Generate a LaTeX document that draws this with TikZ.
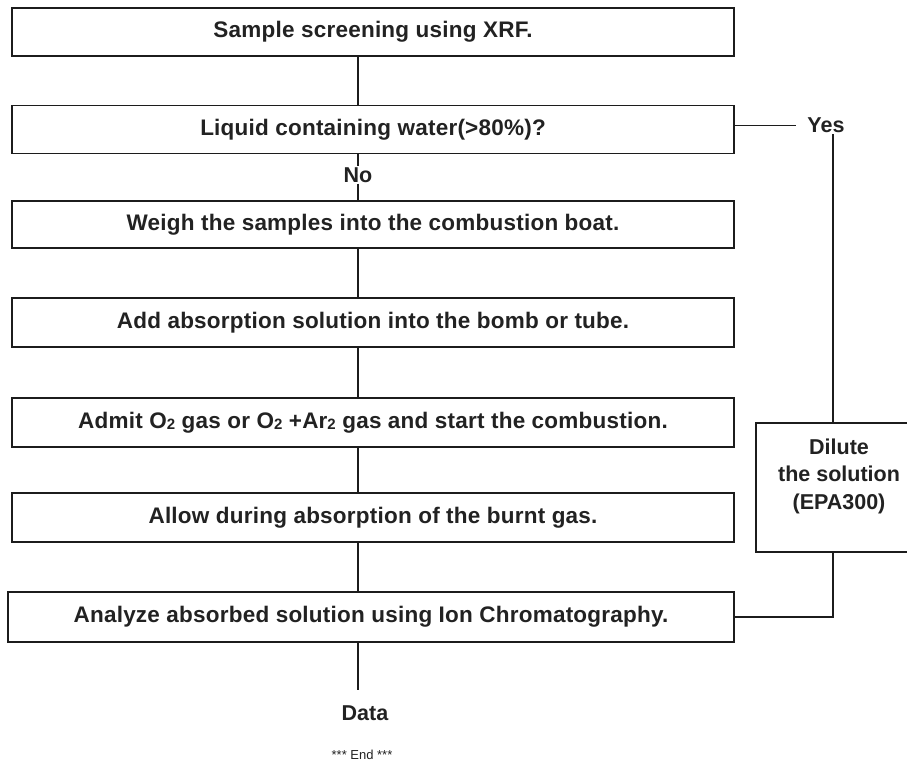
\documentclass[tikz,border=0pt]{standalone}
\usepackage{fontspec}
\setmainfont{Liberation Sans}
\newfontfamily\boxfont[LetterSpace=1]{Liberation Sans}
\usetikzlibrary{calc}
\definecolor{linec}{HTML}{1C1C1C}
\definecolor{txt}{HTML}{222222}
% smaller, lowered "2" used in the gas formulas
\newcommand\lowtwo{{\fontsize{15}{15}\selectfont\raisebox{-1.5pt}{2}}}
\begin{document}
\begin{tikzpicture}[x=1pt,y=-1pt,
  stepbox/.style={draw=linec, line width=1.8pt, minimum width=722pt,
    inner sep=0pt, outer sep=0pt, text=txt,
    font=\boxfont\fontsize{22.5}{26}\selectfont\bfseries},
  link/.style={draw=linec, line width=1.4pt},
  lbl/.style={font=\fontsize{21.5}{26}\selectfont\bfseries, text=txt, inner sep=1pt}]
\path[use as bounding box, clip] (0,0) rectangle (907,766);
\fill[white] (0,0) rectangle (907,766);

% column of the main flow and of the side branch
\coordinate (col) at (358,0);
\coordinate (yx) at (833,0);

% main process steps
\node[stepbox, minimum height=48pt] (b1) at (373,32) {Sample screening using XRF.};
\node[stepbox, minimum height=48pt] (b2) at (373,129.5) {Liquid containing water(>80\%)?};
\node[stepbox, minimum height=47pt] (b3) at (373,224.5) {Weigh the samples into the combustion boat.};
\node[stepbox, minimum height=49pt] (b4) at (373,322.5) {Add absorption solution into the bomb or tube.};
\node[stepbox, minimum height=49pt] (b5) at (373,422.5) {Admit O\lowtwo{} gas or O\lowtwo{} +Ar\lowtwo{} gas and start the combustion.};
\node[stepbox, minimum height=49pt] (b6) at (373,517.5) {Allow during absorption of the burnt gas.};
\node[stepbox, minimum height=50pt, minimum width=726pt] (b7) at (371,617) {Analyze absorbed solution using Ion Chromatography.};

% decision labels and end of flow
\node[lbl] (no) at (358,175) {No};
\node[lbl] (yes) at (826,125.5) {Yes};
\node[lbl] (data) at (365,713.5) {Data};
\node[font=\fontsize{13}{15}\selectfont, text=txt, inner sep=0pt] (endmark) at (362,755) {*** End ***};

% dilution branch box (runs past the right border)
\node[draw=linec, line width=1.5pt, minimum width=170pt, minimum height=129pt,
  anchor=north west, inner sep=0pt, outer sep=0pt] (dil) at (756,423) {};
\node[lbl, align=center, font=\fontsize{21.5}{27.5}\selectfont\bfseries] (diltext) at (839,476)
  {Dilute\\the solution\\(EPA300)};

% connectors of the main flow
\draw[link] (b1.south -| col) -- (b2.north -| col);
\draw[link] (b2.south -| col) -- (no.north -| col);
\draw[link] (no.south -| col) -- (b3.north -| col);
\draw[link] (b3.south -| col) -- (b4.north -| col);
\draw[link] (b4.south -| col) -- (b5.north -| col);
\draw[link] (b5.south -| col) -- (b6.north -| col);
\draw[link] (b6.south -| col) -- (b7.north -| col);
\draw[link, shorten >=15pt] (b7.south -| col) -- (data.north -| col);

% "Yes" branch through the dilution step back to the analysis
\draw[link, shorten >=10pt] (b2.east |- yes.west) -- (yes.west);
\draw[link] (yes.south -| yx) -- (dil.north -| yx);
\draw[link] (dil.south -| yx) |- (b7.east);
\end{tikzpicture}
\end{document}
